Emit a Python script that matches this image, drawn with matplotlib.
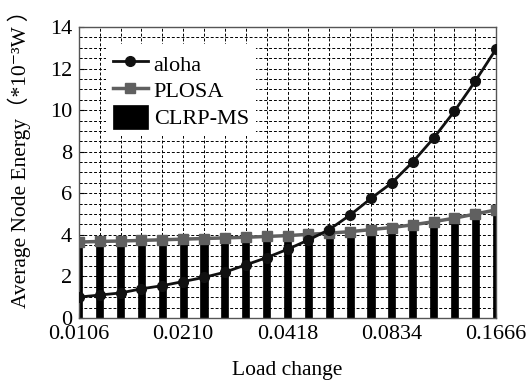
import matplotlib
matplotlib.use("Agg")
import matplotlib.pyplot as plt
from matplotlib.ticker import MultipleLocator, FixedLocator

tick_labels = ["0.0106", "0.0210", "0.0418", "0.0834", "0.1666"]
aloha = [1.0, 1.1, 1.2, 1.4, 1.55, 1.75, 1.95, 2.2, 2.55, 2.9, 3.3,
         3.75, 4.25, 4.95, 5.75, 6.5, 7.5, 8.65, 9.95, 11.4, 12.95]
plosa = [3.65, 3.68, 3.7, 3.73, 3.76, 3.79, 3.82, 3.85, 3.88, 3.92, 3.96,
         4.02, 4.08, 4.15, 4.25, 4.35, 4.48, 4.63, 4.8, 5.0, 5.2]
clrp = [3.55, 3.58, 3.6, 3.63, 3.66, 3.69, 3.72, 3.75, 3.78, 3.82, 3.86,
        3.92, 3.98, 4.05, 4.15, 4.25, 4.38, 4.53, 4.7, 4.9, 5.1]

fam = ['Liberation Serif', 'DejaVu Serif', 'Noto Sans CJK SC']
plt.rcParams['font.family'] = fam

fig = plt.figure(figsize=(5.29, 3.83), dpi=100)
ax = fig.add_axes([0.149, 0.170, 0.789, 0.7595])

idx = list(range(len(aloha)))
ax.bar(idx, clrp, width=0.34, color='black', edgecolor='black',
       linewidth=0.5, label='CLRP-MS', zorder=2)
ax.plot(idx, aloha, color='#111111', lw=2.0, marker='o', ms=7,
        label='aloha', zorder=4)
ax.plot(idx, plosa, color='#606060', lw=2.5, marker='s', ms=7,
        markeredgecolor='#606060', label='PLOSA', zorder=3)

ax.set_xlim(0, 20)
ax.set_ylim(0, 14)
ax.xaxis.set_major_locator(FixedLocator([0, 5, 10, 15, 20]))
ax.set_xticklabels(tick_labels)
ax.xaxis.set_minor_locator(MultipleLocator(1))
ax.yaxis.set_major_locator(MultipleLocator(2))
ax.yaxis.set_minor_locator(MultipleLocator(0.5))
ax.grid(True, which='both', color='black', linestyle=(0, (3, 2)), lw=0.7, zorder=0)
ax.set_axisbelow(True)
ax.tick_params(which='both', direction='in', labelsize=16)
ax.tick_params(axis='x', pad=5)
ax.tick_params(axis='y', pad=5)
ax.tick_params(which='minor', length=2)
for s in ax.spines.values():
    s.set_color('#555555')
    s.set_linewidth(1.0)

ax.set_xlabel('Load change', fontsize=15.5, labelpad=12)
ax.set_ylabel('Average Node Energy（*10⁻³W ）', fontsize=15.5)
ax.yaxis.set_label_coords(-0.115, 0.565)

handles, labels = ax.get_legend_handles_labels()
leg = ax.legend(handles, labels,
                loc='upper left', bbox_to_anchor=(0.065, 0.94), fontsize=16,
                frameon=True, facecolor='white', edgecolor='none', framealpha=1,
                handlelength=1.6, handleheight=1.3, borderpad=0.3,
                borderaxespad=0, labelspacing=0.1, handletextpad=0.25)
leg.set_zorder(5)

fig.savefig('out.png', dpi=100)
